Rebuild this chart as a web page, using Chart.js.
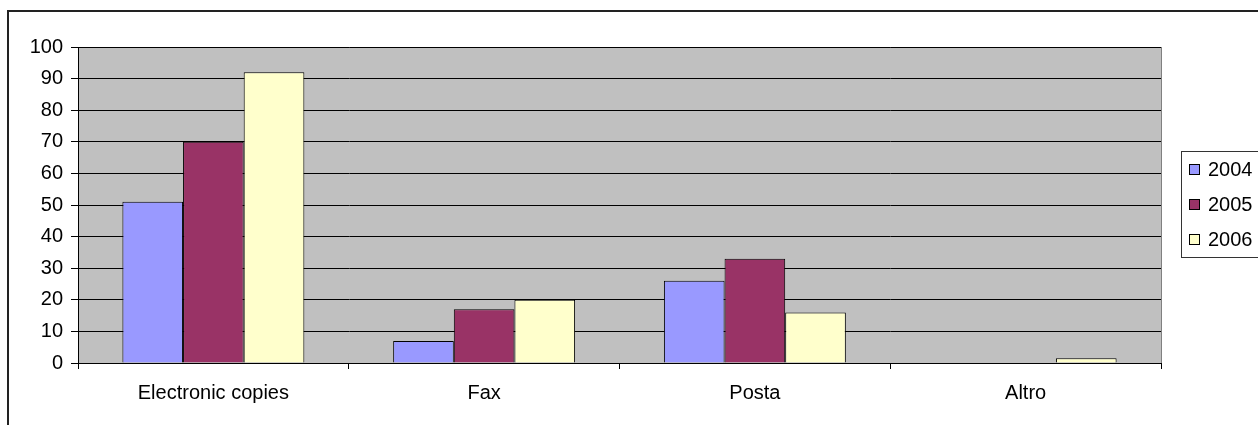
<!DOCTYPE html>
<html>
<head>
<meta charset="utf-8">
<title>Richieste per canale</title>
<script src="https://cdn.jsdelivr.net/npm/chart.js@4.4.1/dist/chart.umd.min.js"></script>
<style>
    html, body { margin: 0; padding: 0; background: #fff; }
    canvas { display: block; }
</style>
</head>
<body>
<canvas id="channelChart" width="1258" height="425"></canvas>
<script>
// Requests received per channel, by year
const categories = ['Electronic copies', 'Fax', 'Posta', 'Altro'];
const years = ['2004', '2005', '2006'];
const values2004 = [51, 7, 26, 0];
const values2005 = [70, 17, 33, 0];
const values2006 = [92, 20, 16, 1.5];
const yearColors = ['#9999FF', '#993366', '#FFFFCC'];

Chart.defaults.font.family = '"Liberation Sans", Arial, sans-serif';
Chart.defaults.font.size = 20;
Chart.defaults.color = '#000';

// Outer frame + grey plot background
const frameAndBackground = {
    id: 'frameAndBackground',
    beforeDraw(chart) {
        const ctx = chart.ctx;
        const a = chart.chartArea;
        ctx.save();
        ctx.strokeStyle = '#222';
        ctx.lineWidth = 2;
        ctx.strokeRect(8, 11, 1400, 600);
        ctx.fillStyle = '#C0C0C0';
        ctx.fillRect(a.left, a.top, a.right - a.left, a.bottom - a.top);
        ctx.strokeStyle = '#808080';
        ctx.lineWidth = 1;
        ctx.strokeRect(a.left + 0.5, a.top + 0.5, a.right - a.left, a.bottom - a.top);
        ctx.restore();
    }
};

// Boxed legend on the right side
const boxLegend = {
    id: 'boxLegend',
    afterDraw(chart) {
        const ctx = chart.ctx;
        const left = 1181.5, top = 151.5, bottom = 257.5;
        ctx.save();
        ctx.strokeStyle = '#333';
        ctx.lineWidth = 1;
        ctx.strokeRect(left, top, 200, bottom - top);
        ctx.font = '20px "Liberation Sans", Arial, sans-serif';
        ctx.textBaseline = 'middle';
        chart.data.datasets.forEach((ds, i) => {
            const cy = 169.5 + i * 35;
            ctx.fillStyle = ds.backgroundColor;
            ctx.fillRect(1189.5, cy - 5, 10, 10);
            ctx.strokeStyle = '#000';
            ctx.strokeRect(1189.5, cy - 5, 10, 10);
            ctx.fillStyle = '#000';
            ctx.fillText(ds.label, 1208, cy + 1);
        });
        ctx.restore();
    }
};

const datasets = [values2004, values2005, values2006].map((vals, i) => ({
    label: years[i],
    data: vals,
    backgroundColor: yearColors[i],
    borderColor: '#000',
    borderWidth: 1,
    categoryPercentage: 0.672,
    barPercentage: 1.0
}));

new Chart(document.getElementById('channelChart'), {
    type: 'bar',
    data: {
        labels: categories,
        datasets: datasets
    },
    options: {
        responsive: false,
        animation: false,
        layout: {
            padding: { top: 47, right: 97, left: 0, bottom: 0 }
        },
        plugins: {
            legend: { display: false },
            tooltip: { enabled: false }
        },
        scales: {
            x: {
                grid: {
                    offset: true,
                    drawOnChartArea: false,
                    drawTicks: true,
                    tickLength: 6,
                    tickColor: '#000'
                },
                border: { display: true, color: '#000', width: 1 },
                ticks: { padding: 12, maxRotation: 0 },
                afterFit(scale) { scale.height = 62; }
            },
            y: {
                min: 0,
                max: 100,
                ticks: { stepSize: 10, padding: 8 },
                grid: {
                    color: '#000',
                    lineWidth: 1,
                    tickLength: 7,
                    tickColor: '#000'
                },
                border: { display: true, color: '#000', width: 1 },
                afterFit(scale) { scale.width = 78; }
            }
        }
    },
    plugins: [frameAndBackground, boxLegend]
});
</script>
</body>
</html>
